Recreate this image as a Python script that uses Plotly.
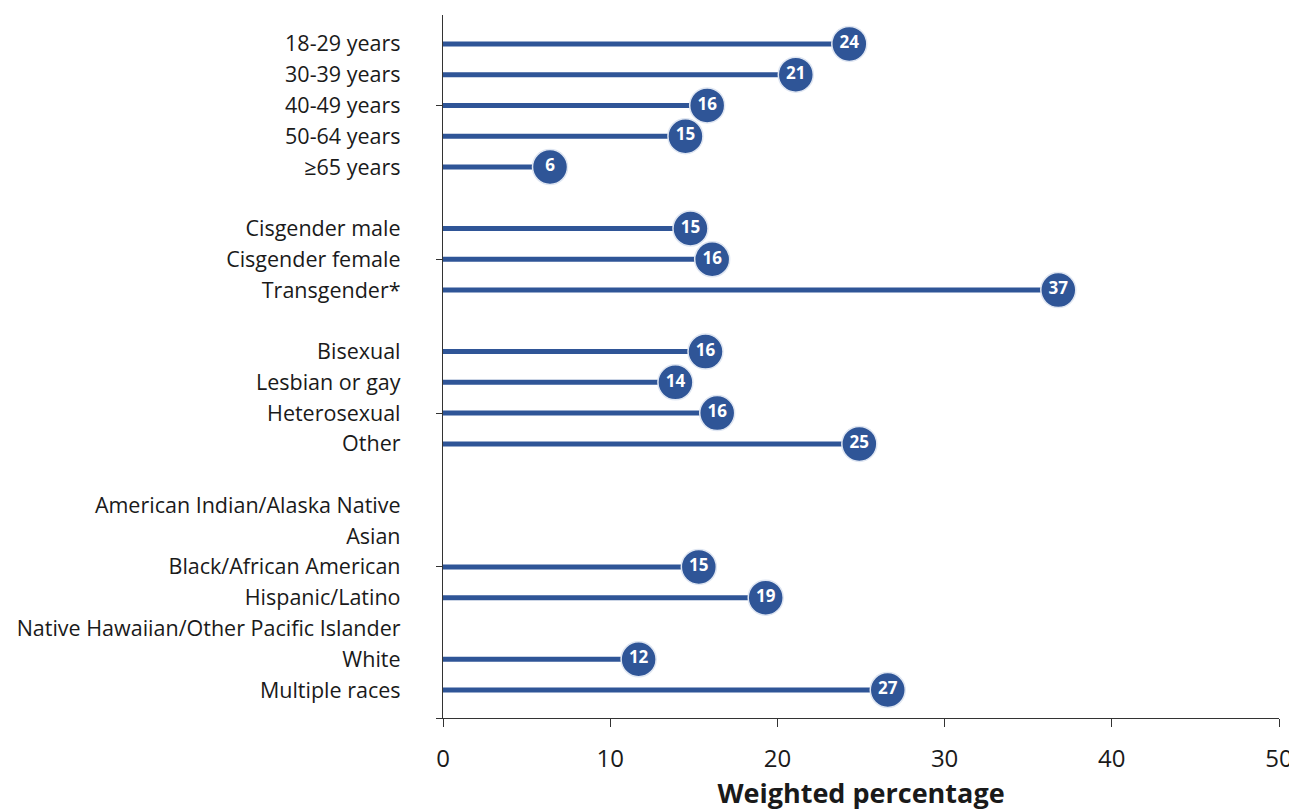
import plotly.graph_objects as go

# ---- data ----
age_labels = ["18-29 years", "30-39 years", "40-49 years", "50-64 years", "≥65 years"]
age_values = [24.3, 21.1, 15.8, 14.5, 6.4]
age_text = ["24", "21", "16", "15", "6"]

gender_labels = ["Cisgender male", "Cisgender female", "Transgender*"]
gender_values = [14.8, 16.1, 36.8]
gender_text = ["15", "16", "37"]

orient_labels = ["Bisexual", "Lesbian or gay", "Heterosexual", "Other"]
orient_values = [15.7, 13.9, 16.4, 24.9]
orient_text = ["16", "14", "16", "25"]

race_labels = ["American Indian/Alaska Native", "Asian", "Black/African American",
               "Hispanic/Latino", "Native Hawaiian/Other Pacific Islander", "White",
               "Multiple races"]
race_values = [None, None, 15.3, 19.3, None, 11.7, 26.6]
race_text = ["", "", "15", "19", "", "12", "27"]

x_ticks = [0, 10, 20, 30, 40, 50]

groups = [
    (age_labels, age_values, age_text),
    (gender_labels, gender_values, gender_text),
    (orient_labels, orient_values, orient_text),
    (race_labels, race_values, race_text),
]

# build slot positions (one empty slot between groups)
labels, values, texts, slots = [], [], [], []
pos = 0
for gl, gv, gt in groups:
    for l, v, t in zip(gl, gv, gt):
        labels.append(l)
        values.append(v)
        texts.append(t)
        slots.append(pos)
        pos += 1
    pos += 1
last_slot = slots[-1]

BLUE = "#2F5597"

line_x, line_y = [], []
mx, my, mt = [], [], []
for v, s, t in zip(values, slots, texts):
    if v is None:
        continue
    line_x += [0, v, None]
    line_y += [s, s, None]
    mx.append(v)
    my.append(s)
    mt.append(t)

fig = go.Figure()
fig.add_trace(go.Scatter(x=line_x, y=line_y, mode="lines",
                         line=dict(color=BLUE, width=5), hoverinfo="skip",
                         showlegend=False))
fig.add_trace(go.Scatter(x=mx, y=my, mode="markers+text", text=mt,
                         textposition="middle center",
                         textfont=dict(color="white", size=17, family="Open Sans", weight="bold"),
                         marker=dict(size=35, color=BLUE, line=dict(color="#dfe6f2", width=1.5)),
                         showlegend=False, cliponaxis=False))

# page body has an 8px margin; the figure is offset by it
fig.update_layout(
    width=1289, height=803,
    margin=dict(l=435, r=18, t=7, b=93),
    paper_bgcolor="white", plot_bgcolor="white",
    font=dict(family="Open Sans", color="#1a1a1a"),
    xaxis=dict(range=[0, 50], tickvals=x_ticks, ticks="outside", ticklen=8,
               tickcolor="#333", showline=True, linecolor="#333", linewidth=1.3,
               showgrid=False, zeroline=False, tickfont=dict(size=24),
               ticklabelstandoff=11, automargin=False,
               title=dict(text="<b>Weighted percentage</b>", font=dict(size=27), standoff=14)),
    yaxis=dict(range=[last_slot + 0.91, -0.94], tickvals=slots, ticktext=labels,
               ticks="", showline=True, linecolor="#333", linewidth=1.3,
               showgrid=False, zeroline=False, tickfont=dict(size=21.5),
               ticklabelstandoff=37, automargin=False,
               minor=dict(tickvals=[2, 7, 12, 17, last_slot + 0.91], ticks="outside",
                          ticklen=6, tickcolor="#333", showgrid=False)),
)

fig.write_html("out.html")
